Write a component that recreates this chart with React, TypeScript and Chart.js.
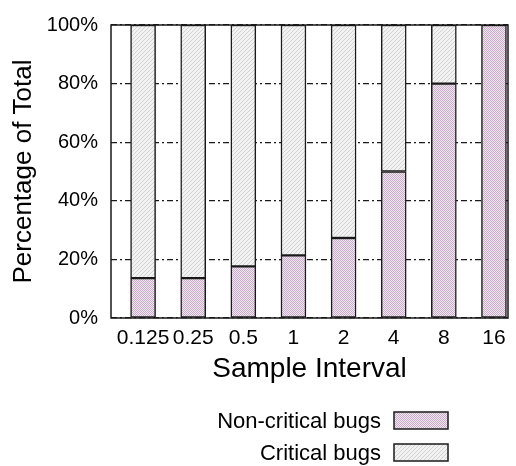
import React, { useEffect, useRef } from "react";
import { Chart, registerables } from "chart.js";

Chart.register(...registerables);

const sampleIntervals = ["0.125", "0.25", "0.5", "1", "2", "4", "8", "16"];
const nonCriticalPct = [13.6, 13.6, 17.6, 21.4, 27.3, 50, 80, 100];
const criticalPct = [86.4, 86.4, 82.4, 78.6, 72.7, 50, 20, 0];
const yTickValues = [0, 20, 40, 60, 80, 100];
const seriesLabels = ["Non-critical bugs", "Critical bugs"];

const FONT = "'Liberation Sans', Arial, Helvetica, sans-serif";

function checkerPattern(ctx: CanvasRenderingContext2D) {
  const c = document.createElement("canvas");
  c.width = 2;
  c.height = 2;
  const g = c.getContext("2d")!;
  g.fillStyle = "#efe5ef";
  g.fillRect(0, 0, 2, 2);
  g.fillStyle = "#c9aec9";
  g.fillRect(0, 0, 1, 1);
  g.fillRect(1, 1, 1, 1);
  return ctx.createPattern(c, "repeat")!;
}

function hatchPattern(ctx: CanvasRenderingContext2D) {
  const c = document.createElement("canvas");
  c.width = 4;
  c.height = 4;
  const g = c.getContext("2d")!;
  g.fillStyle = "#f2f2f2";
  g.fillRect(0, 0, 4, 4);
  g.fillStyle = "#d2d2d2";
  for (let i = 0; i < 4; i++) g.fillRect(3 - i, i, 1, 1);
  return ctx.createPattern(c, "repeat")!;
}

export default function App() {
  const ref = useRef<HTMLCanvasElement | null>(null);

  useEffect(() => {
    document.body.style.margin = "0";
    const canvas = ref.current!;
    const ctx = canvas.getContext("2d")!;
    const pink = checkerPattern(ctx);
    const gray = hatchPattern(ctx);
    const fills = [pink, gray];

    const framePlugin = {
      id: "frame",
      afterDatasetsDraw(chart: any) {
        const { ctx, chartArea } = chart;
        ctx.save();
        ctx.strokeStyle = "#1a1a1a";
        ctx.lineWidth = 1.5;
        ctx.setLineDash([]);
        ctx.strokeRect(chartArea.left, chartArea.top, chartArea.right - chartArea.left, chartArea.bottom - chartArea.top);
        ctx.restore();
      },
    };

    const legendPlugin = {
      id: "rightBoxLegend",
      afterDraw(chart: any) {
        const { ctx } = chart;
        ctx.save();
        ctx.font = `22px ${FONT}`;
        ctx.textAlign = "right";
        ctx.textBaseline = "middle";
        const boxX = 394;
        const boxW = 54;
        const boxH = 17;
        const rows = [412, 444];
        seriesLabels.forEach((label, i) => {
          const y = rows[i];
          ctx.fillStyle = "#000";
          ctx.fillText(label, 381, y + boxH / 2 + 1);
          ctx.fillStyle = fills[i];
          ctx.fillRect(boxX, y, boxW, boxH);
          ctx.strokeStyle = "#1a1a1a";
          ctx.lineWidth = 1.5;
          ctx.strokeRect(boxX, y, boxW, boxH);
        });
        ctx.restore();
      },
    };

    const chart = new Chart(canvas, {
      type: "bar",
      data: {
        datasets: [
          {
            label: seriesLabels[0],
            data: nonCriticalPct.map((v, i) => ({ x: i, y: v })),
            backgroundColor: pink,
            borderColor: "#1a1a1a",
            borderWidth: 1.5,
            borderSkipped: false,
            barThickness: 25,
          },
          {
            label: seriesLabels[1],
            data: criticalPct.map((v, i) => ({ x: i, y: v })),
            backgroundColor: gray,
            borderColor: "#1a1a1a",
            borderWidth: 1.5,
            borderSkipped: false,
            barThickness: 25,
          },
        ],
      },
      options: {
        animation: false,
        responsive: false,
        devicePixelRatio: 1,
        layout: { padding: { top: 22, right: 8, bottom: 80, left: 0 } },
        plugins: {
          legend: { display: false },
          tooltip: { enabled: false },
          title: { display: false },
        },
        scales: {
          x: {
            type: "linear",
            stacked: true,
            offset: false,
            min: -0.64,
            max: 7.28,
            grid: { display: false, drawTicks: false, offset: false },
            border: { display: false },
            afterBuildTicks: (scale: any) => {
              scale.ticks = sampleIntervals.map((_, i) => ({ value: i }));
            },
            afterFit: (scale: any) => {
              scale.height = 68;
            },
            ticks: {
              autoSkip: false,
              maxRotation: 0,
              padding: 8,
              color: "#000",
              font: { family: FONT, size: 21 },
              callback: (v: any) => sampleIntervals[Math.round(Number(v))] ?? "",
            },
            title: {
              display: true,
              text: "Sample Interval",
              color: "#000",
              font: { family: FONT, size: 28 },
              padding: { top: 0, bottom: 0 },
            },
          },
          y: {
            type: "linear",
            stacked: true,
            min: 0,
            max: 100,
            afterBuildTicks: (scale: any) => {
              scale.ticks = yTickValues.map((v) => ({ value: v }));
            },
            afterFit: (scale: any) => {
              scale.width = 111;
            },
            grid: {
              color: "#1a1a1a",
              lineWidth: 1.3,
              borderDash: [6, 3, 2, 3],
              drawTicks: false,
            } as any,
            border: { display: false, dash: [6, 3, 2, 3] },
            ticks: {
              padding: 13,
              color: "#000",
              font: { family: FONT, size: 20 },
              callback: (v: any) => `${v}%`,
            },
            title: {
              display: true,
              text: "Percentage of Total",
              color: "#000",
              font: { family: FONT, size: 26 },
              padding: { top: 8, bottom: 0 },
            },
          },
        },
      } as any,
      plugins: [framePlugin, legendPlugin],
    });

    return () => chart.destroy();
  }, []);

  return <canvas ref={ref} width={516} height={466} style={{ display: "block" }} />;
}
